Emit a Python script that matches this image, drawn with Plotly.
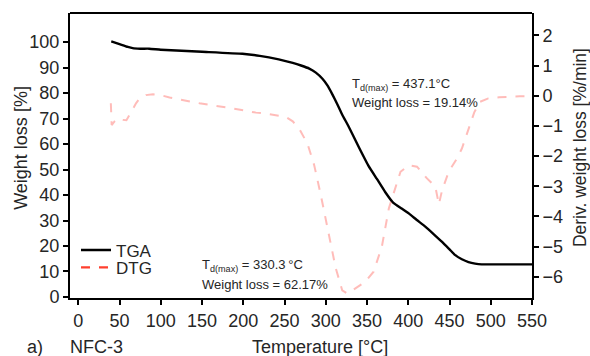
import plotly.graph_objects as go

# TGA: residual weight [%] vs temperature [°C]
tga_temp = [40, 50, 60, 66, 75, 86, 100, 150, 199, 220, 243, 260, 270, 280, 288,
            296, 302, 308, 314, 320, 328, 340, 352, 362, 372, 382, 392, 401, 410,
            421, 431, 441, 450, 457, 465, 473, 481, 489, 500, 520, 550]
tga_weight = [100.3, 99.2, 98.1, 97.6, 97.4, 97.4, 97.0, 96.2, 95.4, 94.6, 93.2,
              91.8, 90.8, 89.6, 88.0, 85.6, 83.0, 79.5, 75.6, 71.5, 66.7, 58.8,
              51.3, 46.3, 41.2, 36.9, 34.7, 32.7, 30.3, 27.5, 24.6, 21.6, 18.7,
              16.4, 14.8, 13.7, 13.1, 12.8, 12.8, 12.8, 12.8]

# DTG: derivative weight loss [%/min] vs temperature [°C]
dtg_temp = [39.5, 40.5, 44, 48, 54, 58.4, 64.5, 70, 74.5, 82, 90.6, 100, 110.7,
            147, 187, 215.5, 227.5, 251.7, 260, 268, 278, 286, 294, 302, 312, 320,
            326, 332.6, 340, 348, 358, 368, 376.5, 382.5, 390.6, 400.6, 410.6,
            422.7, 432.8, 437.1, 441, 449, 459, 465, 473, 480, 487, 497, 510, 521,
            535, 550]
dtg_rate = [-0.25, -0.97, -0.85, -0.75, -0.80, -0.81, -0.53, -0.25, -0.09, 0.02,
            0.05, 0.02, -0.06, -0.25, -0.42, -0.56, -0.59, -0.70, -0.85, -1.10,
            -1.60, -2.30, -3.29, -4.40, -5.70, -6.45, -6.55, -6.44, -6.30, -6.16,
            -5.83, -5.00, -3.73, -3.18, -2.52, -2.30, -2.35, -2.74, -3.01, -3.60,
            -3.13, -2.52, -2.08, -1.75, -1.08, -0.55, -0.20, -0.09, -0.05, -0.03,
            -0.02, -0.02]

x_ticks = [0, 50, 100, 150, 200, 250, 300, 350, 400, 450, 500, 550]
y_ticks = [0, 10, 20, 30, 40, 50, 60, 70, 80, 90, 100]
y2_ticks = [-6, -5, -4, -3, -2, -1, 0, 1, 2]

FONT = "Liberation Sans, Arial, sans-serif"
TXT = "#262626"
DTG_FAINT = "rgba(255,70,60,0.36)"
DTG_LEG = "#ff3f2e"

fig = go.Figure()

fig.add_trace(go.Scatter(
    x=tga_temp, y=tga_weight, mode="lines", name="TGA",
    line=dict(color="black", width=2.4, shape="spline", smoothing=0.4),
    legend="legend",
))
fig.add_trace(go.Scatter(
    x=dtg_temp, y=dtg_rate, mode="lines", name="DTG", yaxis="y2",
    line=dict(color=DTG_FAINT, width=2, dash="dash"),
    showlegend=False,
))
# legend key for the DTG curve
fig.add_trace(go.Scatter(
    x=[None], y=[None], mode="lines", name="DTG", yaxis="y2",
    line=dict(color=DTG_LEG, width=2.2, dash="dash"),
    legend="legend2",
))

axis_common = dict(
    showgrid=False, zeroline=False, showline=True, linecolor="black",
    linewidth=2, ticks="outside", ticklen=5, tickwidth=1.5, tickcolor="black",
    tickfont=dict(family=FONT, size=18, color=TXT),
)

fig.update_layout(
    width=590, height=356,
    margin=dict(l=70, r=58.3, t=12.7, b=58.3),
    paper_bgcolor="white", plot_bgcolor="white",
    font=dict(family=FONT, color=TXT),
    xaxis=dict(range=[-10, 550], tickvals=x_ticks, mirror=False, **axis_common),
    yaxis=dict(range=[-0.4, 111.4], tickvals=y_ticks, **axis_common),
    yaxis2=dict(range=[-6.7, 2.74], tickvals=y2_ticks, overlaying="y",
                side="right", **axis_common),
    legend=dict(x=0.013, y=0.167, xanchor="left", yanchor="middle",
                bgcolor="rgba(0,0,0,0)", itemwidth=30,
                font=dict(family=FONT, size=17, color=TXT)),
    legend2=dict(x=0.013, y=0.106, xanchor="left", yanchor="middle",
                 bgcolor="rgba(0,0,0,0)", itemwidth=30,
                 font=dict(family=FONT, size=17, color=TXT)),
)

# top border of the frame
fig.add_shape(type="line", xref="paper", yref="paper", x0=0, x1=1, y0=1, y1=1,
              line=dict(color="black", width=2))

ann_font = dict(family=FONT, size=13, color=TXT)
annotations = [
    dict(x=329.3, y=83.4, text="T<sub>d(max)</sub> = 437.1°C"),
    dict(x=329.3, y=76.4, text="Weight loss = 19.14%"),
    dict(x=147, y=12.4, text="T<sub>d(max)</sub> = 330.3\u2009°C"),
    dict(x=147, y=5.0, text="Weight loss = 62.17%"),
]
for a in annotations:
    fig.add_annotation(xref="x", yref="y", xanchor="left", yanchor="middle",
                       showarrow=False, font=ann_font, **a)

lab_font = dict(family=FONT, size=18, color=TXT)
fig.add_annotation(xref="paper", yref="paper", x=0.5415, y=-0.172,
                   text="Temperature [°C]", showarrow=False, font=lab_font,
                   xanchor="center", yanchor="middle")
fig.add_annotation(xref="paper", yref="paper", x=-0.0758, y=-0.172,
                   text="a)", showarrow=False, font=lab_font,
                   xanchor="center", yanchor="middle")
fig.add_annotation(xref="paper", yref="paper", x=-0.0043, y=-0.172,
                   text="NFC-3", showarrow=False, font=lab_font,
                   xanchor="left", yanchor="middle")
fig.add_annotation(xref="paper", yref="paper", x=-0.106, y=0.527,
                   text="Weight loss [%]", showarrow=False, font=lab_font,
                   textangle=-90, xanchor="center", yanchor="middle")
fig.add_annotation(xref="paper", yref="paper", x=1.1045, y=0.527,
                   text="Deriv. weight loss [%/min]", showarrow=False,
                   font=dict(family=FONT, size=17.5, color=TXT), textangle=-90,
                   xanchor="center", yanchor="middle")

fig.write_html("out.html")
